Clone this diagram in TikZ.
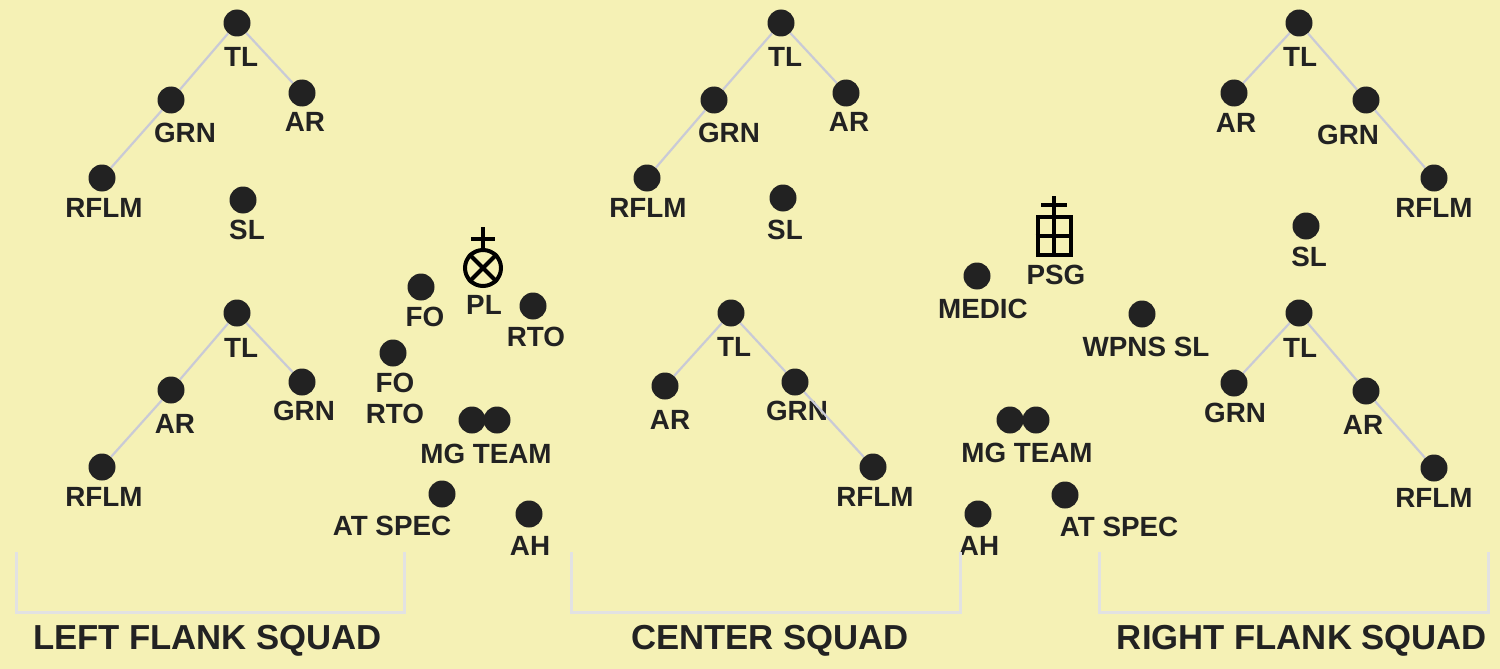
\documentclass[tikz,border=0pt]{standalone}
\usepackage{fontspec}
\setmainfont{Liberation Sans}
\usepackage{tikz}
\usepackage{xcolor}

\definecolor{bgc}{HTML}{F5F1B5}
\definecolor{dotc}{HTML}{222222}
\definecolor{linkc}{HTML}{C9CAD6}
\definecolor{brkc}{HTML}{E2E2E2}

\tikzset{
  dot/.style={circle, fill=dotc, inner sep=0pt, minimum size=27pt},
  lbl/.style={inner sep=0pt, text=dotc, align=center, font=\fontsize{27.8}{31}\selectfont\bfseries},
  title/.style={inner sep=0pt, text=dotc, font=\fontsize{34.7}{40}\selectfont\bfseries},
  link/.style={draw=linkc, line width=2.2pt},
  bracket/.style={draw=brkc, line width=3pt},
  sym/.style={draw=black, line width=4pt}
}

\begin{document}
\begin{tikzpicture}[x=1pt, y=-1pt]
    % Canvas
    \useasboundingbox (0,0) rectangle (1500,669);
    \fill[bgc] (0,0) rectangle (1500,669);

    % Soldiers: name/x/y/label x/label y/text
    \foreach \n/\x/\y/\lx/\ly/\t in {
        lsTL/237/23/241/57/TL, lsGRN/171/100/185/133/GRN, lsAR/302/93/305/122/AR,
        lsRFLM/102/178/104/208/RFLM, lsSL/243/200/247/230/SL,
        lbTL/237/313/241/348/TL, lbAR/171/390/175/424/AR, lbGRN/302/382/304/411/GRN,
        lbRFLM/102/467/104/497/RFLM,
        fo/421/287/425/317/FO, forto/393/353/395/398.5/FO\\RTO, rto/533/306/536/337/RTO,
        atL/442/494/392/526/AT SPEC, ahL/529/514/530/546/AH,
        csTL/781/23/785/57/TL, csGRN/714/100/729/133/GRN, csAR/846/93/849/122/AR,
        csRFLM/647/178/648/208/RFLM, csSL/783/198/785/230/SL,
        cbTL/731/313/734/347/TL, cbAR/665/386/670/420/AR, cbGRN/795/382/797/411/GRN,
        cbRFLM/873/467/875/497/RFLM,
        medic/977/276/983/309/MEDIC, wpns/1142/314/1146/347/WPNS SL,
        atR/1065/495/1119/527/AT SPEC, ahR/978/514/979/546/AH,
        rsTL/1299/23/1300/57/TL, rsAR/1234/93/1236/123/AR, rsGRN/1366/100/1348/135/GRN,
        rsRFLM/1434/178/1434/208/RFLM, rsSL/1306/226/1309/257/SL,
        rbTL/1299/313/1300/348/TL, rbGRN/1234/383/1235/413/GRN, rbAR/1366/391/1363/425/AR,
        rbRFLM/1434/468/1434/498/RFLM} {
        \node[dot] (\n) at (\x,\y) {};
        \node[lbl] (\n-l) at (\lx,\ly) {\t};
    }

    % MG teams
    \node[dot] (mgA) at (472,420) {};
    \node[dot] (mgB) at (497,420) {};
    \node[lbl] (mgL-l) at (486,454) {MG TEAM};
    \node[dot] (mgC) at (1010,420) {};
    \node[dot] (mgD) at (1036,420) {};
    \node[lbl] (mgR-l) at (1027,453) {MG TEAM};

    % Fire team links
    \foreach \a/\b in {lsTL/lsGRN, lsGRN/lsRFLM, lsTL/lsAR,
                       lbTL/lbAR, lbAR/lbRFLM, lbTL/lbGRN,
                       csTL/csGRN, csGRN/csRFLM, csTL/csAR,
                       cbTL/cbAR, cbTL/cbGRN, cbGRN/cbRFLM,
                       rsTL/rsAR, rsTL/rsGRN, rsGRN/rsRFLM,
                       rbTL/rbGRN, rbTL/rbAR, rbAR/rbRFLM} {
        \draw[link] (\a) -- (\b);
    }

    % Platoon leader symbol
    \node[sym, circle, inner sep=0pt, minimum size=36pt] (pl) at (483,268) {};
    \draw[sym] (pl.north west) -- (pl.south east);
    \draw[sym] (pl.north east) -- (pl.south west);
    \draw[sym] (pl.north) -- (483,227);
    \draw[sym] (471,239) -- (495,239);
    \node[lbl] (pl-l) at (484,305) {PL};

    % Platoon sergeant symbol
    \node[sym, rectangle, inner sep=0pt, minimum width=33pt, minimum height=38pt] (psg) at (1054,236) {};
    \draw[sym] (psg.north) -- (psg.south);
    \draw[sym] (psg.west) -- (psg.east);
    \draw[sym] (psg.north) -- (1054,196);
    \draw[sym] (1041,205) -- (1067,205);
    \node[lbl] (psg-l) at (1056,275) {PSG};

    % Squad brackets
    \draw[bracket] (16,552) -- (16,612) -- (404,612) -- (404,552);
    \draw[bracket] (571,552) -- (571,612) -- (960,612) -- (960,552);
    \draw[bracket] (1099,552) -- (1099,612) -- (1488,612) -- (1488,552);

    \node[title] (leftsq) at (207.5,641) {LEFT FLANK SQUAD};
    \node[title] (centersq) at (770,641) {CENTER SQUAD};
    \node[title] (rightsq) at (1302,641) {RIGHT FLANK SQUAD};
\end{tikzpicture}
\end{document}
